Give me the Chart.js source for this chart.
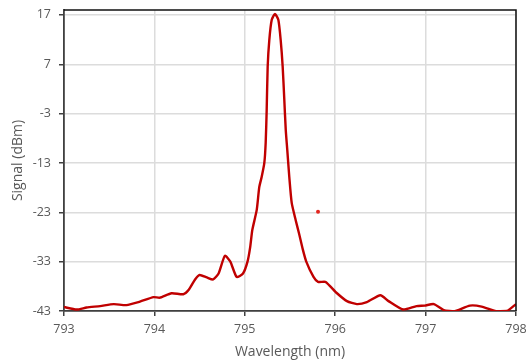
<!DOCTYPE html>
<html>
<head>
<meta charset="utf-8">
<script src="https://cdn.jsdelivr.net/npm/chart.js@4.4.1/dist/chart.umd.min.js"></script>
<style>
  html,body{ margin:0; padding:0; background:#fff; }
  #wrap{ width:526px; height:360px; }
</style>
</head>
<body>
<div id="wrap"><canvas id="spec" width="526" height="360"></canvas></div>
<script>
// spectrum
const wavelength = [793.00,793.14,793.25,793.40,793.55,793.69,793.84,793.99,794.06,794.19,794.32,794.38,794.45,794.50,794.58,794.65,794.71,794.78,794.84,794.91,794.98,795.03,795.06,795.083,795.132,795.160,795.187,795.216,795.231,795.242,795.253,795.271,795.298,795.334,795.371,795.397,795.419,795.437,795.453,795.470,795.492,795.519,795.563,795.60,795.64,795.68,795.76,795.81,795.89,795.94,796.02,796.13,796.24,796.35,796.50,796.59,796.75,796.90,796.99,797.09,797.20,797.31,797.49,797.62,797.79,797.90,798.00];
const signal = [-42.2,-42.7,-42.3,-42.0,-41.6,-41.8,-41.1,-40.2,-40.3,-39.4,-39.6,-38.7,-36.6,-35.7,-36.2,-36.6,-35.4,-31.8,-33.0,-36.1,-35.4,-33.0,-30.0,-26.6,-22.5,-17.9,-15.8,-13.0,-8.9,-2.3,6.5,11.9,16.0,17.2,16.0,11.9,6.5,-0.2,-6.3,-10.4,-15.8,-21.1,-24.6,-27.3,-30.4,-33.0,-36.1,-37.1,-37.1,-37.9,-39.4,-41.0,-41.6,-41.2,-39.8,-41.0,-42.7,-42.0,-41.9,-41.6,-42.8,-43.1,-41.9,-42.1,-43.1,-43.0,-41.6];
// lone marker
const markerX = [795.81];
const markerY = [-22.9];

const xTicks = [793,794,795,796,797,798];
const yTicks = [-43,-33,-23,-13,-3,7,17];

const tickFont = { family:"'Open Sans', sans-serif", size:12.5 };
const titleFont = { family:"'Open Sans', sans-serif", size:14 };

const boxLines = {
  id:"boxLines",
  afterDraw(c){
    const a = c.chartArea, g = c.ctx;
    g.save();
    g.strokeStyle = "#111";
    g.lineWidth = 1.5;
    g.beginPath();
    g.moveTo(a.left, a.top);
    g.lineTo(a.right, a.top);
    g.lineTo(a.right, a.bottom);
    g.stroke();
    g.restore();
  }
};

new Chart(document.getElementById("spec"), {
  type:"scatter",
  data:{
    datasets:[
      {
        data: wavelength.map((w,i)=>({x:w, y:signal[i]})),
        showLine:true,
        borderColor:"#c00000",
        borderWidth:2.4,
        pointRadius:0,
        tension:0.2,
        order:2
      },
      {
        data: markerX.map((w,i)=>({x:w, y:markerY[i]})),
        showLine:false,
        backgroundColor:"#e3261f",
        borderWidth:0,
        pointRadius:2,
        order:1
      }
    ]
  },
  options:{
    responsive:false,
    animation:false,
    layout:{ padding:{ left:0, top:10, right:10, bottom:0 } },
    plugins:{ legend:{ display:false }, tooltip:{ enabled:false } },
    scales:{
      x:{
        type:"linear", min:793, max:798,
        afterBuildTicks:(s)=>{ s.ticks = xTicks.map(v=>({value:v})); },
        afterFit:(s)=>{ s.height = 49; s.paddingLeft = 0; s.paddingRight = 0; },
        grid:{ color:"#dcdcdc", lineWidth:1.5, tickColor:"#404040", tickLength:5 },
        border:{ color:"#404040", width:1.8 },
        ticks:{ color:"#595959", font:tickFont, padding:6, maxRotation:0 },
        title:{ display:true, text:"Wavelength (nm)", color:"#595959", font:titleFont, padding:{ top:0, bottom:0 } }
      },
      y:{
        type:"linear", min:-43, max:18,
        afterBuildTicks:(s)=>{ s.ticks = yTicks.map(v=>({value:v})); },
        afterFit:(s)=>{ s.width = 64; s.paddingTop = 0; s.paddingBottom = 0; },
        grid:{ color:"#dcdcdc", lineWidth:1.5, tickColor:"#404040", tickLength:5 },
        border:{ color:"#404040", width:1.8 },
        ticks:{ color:"#595959", font:tickFont, padding:8 },
        title:{ display:true, text:"Signal (dBm)", color:"#595959", font:titleFont, padding:{ top:10, bottom:0 } }
      }
    }
  },
  plugins:[boxLines]
});
</script>
</body>
</html>
